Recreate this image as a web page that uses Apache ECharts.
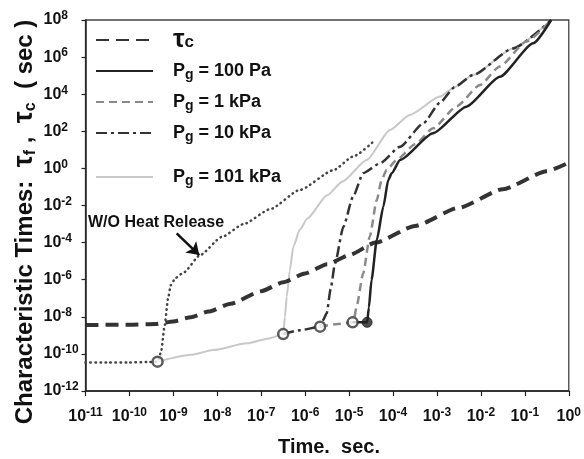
<!DOCTYPE html>
<html><head><meta charset="utf-8">
<script src="https://cdn.jsdelivr.net/npm/echarts@6/dist/echarts.min.js"></script>
<style>html,body{margin:0;padding:0;background:#fff}#c{width:584px;height:459px}</style>
</head><body><div id="c"></div>
<script>
// All values are base-10 exponents: [log10(time s), log10(tau s)]
const xTicks = [-11,-10,-9,-8,-7,-6,-5,-4,-3,-2,-1,0];
const yTicks = [-12,-10,-8,-6,-4,-2,0,2,4,6,8];

const tauC = [[-11,-8.44],[-10,-8.43],[-9.4,-8.39],[-9,-8.25],[-8.6,-8.02],[-8.2,-7.72],[-7.7,-7.3],[-7,-6.62],[-6.5,-6.14],[-6,-5.66],[-5.5,-5.17],[-5,-4.68],[-4.4,-4.0],[-3.5,-3.1],[-2.5,-2.12],[-1.5,-1.12],[-0.5,-0.15],[0,0.31]];

const woHeat = [[-11,-10.47],[-10.5,-10.47],[-10,-10.46],[-9.6,-10.44],[-9.36,-10.42],[-9.28,-9.9],[-9.2,-8.5],[-9.12,-7.0],[-9.06,-6.3],[-8.95,-5.9],[-8.77,-5.62],[-8.39,-4.67],[-7.9,-3.7],[-7.4,-3.0],[-6.8,-2.2],[-6.12,-1.16],[-5.36,-0.1],[-4.9,0.65],[-4.45,1.44]];

const p101k = [[-9.36,-10.42],[-8.6,-10.05],[-8.09,-9.79],[-7.33,-9.43],[-6.8,-9.15],[-6.5,-8.93],[-6.46,-8.0],[-6.42,-6.92],[-6.35,-5.5],[-6.27,-4.22],[-6.12,-3.3],[-5.95,-2.7],[-5.5,-1.45],[-5.15,-0.7],[-4.6,0.45],[-4.07,2.07],[-3.62,2.88],[-2.93,3.87],[-2.6,4.38],[-2.18,5.04],[-1.27,6.47],[-0.4,8]];

const p10k = [[-6.5,-8.93],[-6.1,-8.72],[-5.66,-8.53],[-5.6,-8.2],[-5.51,-7.81],[-5.42,-6.5],[-5.32,-5.12],[-5.13,-3.14],[-4.91,-1.52],[-4.68,-0.26],[-4.3,0.27],[-3.84,1.17],[-3.31,2.43],[-2.93,3.55],[-2.6,4.38],[-2.18,5.04],[-1.27,6.47],[-0.4,8]];

const p1k = [[-5.66,-8.53],[-5.3,-8.4],[-4.92,-8.3],[-4.88,-8.0],[-4.83,-7.45],[-4.68,-5.66],[-4.53,-3.68],[-4.37,-1.7],[-4.26,-0.63],[-4.15,-0.09],[-3.92,0.45],[-3.5,1.3],[-3.09,2.16],[-2.55,3.35],[-2.02,4.5],[-1.57,5.5],[-0.96,6.85],[-0.4,8]];

const p100 = [[-4.92,-8.3],[-4.59,-8.3],[-4.55,-7.5],[-4.49,-6.02],[-4.37,-3.86],[-4.22,-2.06],[-4.11,-0.63],[-4.03,-0.26],[-3.84,0.45],[-3.09,1.89],[-2.33,3.33],[-1.57,4.94],[-0.81,6.74],[-0.4,8]];

const openMarkers = [[-9.36,-10.42],[-6.5,-8.93],[-5.66,-8.53],[-4.92,-8.3]];
const filledMarkers = [[-4.59,-8.3]];

const arrowFrom = [-8.925,-3.5];
const arrowTo = [-8.41,-4.67];

const legendNames = ['tauc','p100','p1k','p10k','p101k'];
const legendLabels = {
  tauc: '{t|τ}{c|c}',
  p100: '{n|P}{g|g}{n| = 100 Pa}',
  p1k: '{n|P}{g|g}{n| = 1 kPa}',
  p10k: '{n|P}{g|g}{n| = 10 kPa}',
  p101k: '{n|P}{g|g}{n| = 101 kPa}'
};

const FF = '"Liberation Sans", Arial, sans-serif';
const tickRich = {
  b: {fontSize: 16, fontWeight: 'bold', fontFamily: FF, color: '#111', lineHeight: 20},
  s: {fontSize: 12, fontWeight: 'bold', fontFamily: FF, color: '#111', lineHeight: 10, verticalAlign: 'top'}
};
const legendRich = {
  n: {fontSize: 18, fontWeight: 'bold', fontFamily: FF, color: '#111', lineHeight: 22},
  g: {fontSize: 14, fontWeight: 'bold', fontFamily: FF, color: '#111', lineHeight: 7, verticalAlign: 'bottom'},
  t: {fontSize: 26, fontWeight: 'bold', fontFamily: FF, color: '#111', lineHeight: 22},
  c: {fontSize: 17, fontWeight: 'bold', fontFamily: FF, color: '#111', lineHeight: 6, verticalAlign: 'bottom'}
};
const legendTops = [27, 62, 93, 124, 168];

const chart = echarts.init(document.getElementById('c'), null, {renderer: 'canvas'});
chart.setOption({
  animation: false,
  backgroundColor: '#fff',
  grid: {left: 85.5, right: 15, top: 20, bottom: 68, show: true, borderColor: '#444', borderWidth: 1.3, backgroundColor: 'transparent'},
  xAxis: {
    type: 'value', min: xTicks[0], max: xTicks[xTicks.length-1], interval: 1,
    axisLine: {onZero: false, lineStyle: {color: '#222', width: 1.5}},
    axisTick: {length: 5, lineStyle: {color: '#222', width: 1.2}},
    splitLine: {show: false},
    axisLabel: {margin: 16, formatter: v => '{b|10}{s|' + v + '}', rich: tickRich}
  },
  yAxis: {
    type: 'value', min: yTicks[0], max: yTicks[yTicks.length-1], interval: 2,
    axisLine: {onZero: false, lineStyle: {color: '#222', width: 1.5}},
    axisTick: {length: 4, lineStyle: {color: '#222', width: 1.2}},
    splitLine: {show: false},
    axisLabel: {margin: 42, align: 'left', formatter: v => '{b|10}{s|' + v + '}', rich: tickRich}
  },
  legend: legendNames.map((nm, i) => ({
    data: [nm], left: 95, top: legendTops[i], padding: 0, itemWidth: 57, itemHeight: 14,
    selectedMode: false,
    itemStyle: {color: 'rgba(0,0,0,0)', borderColor: 'rgba(0,0,0,0)', borderWidth: 0, opacity: 0},
    formatter: name => legendLabels[name],
    textStyle: {padding: [0, 0, 0, 15], rich: legendRich}
  })),
  graphic: [
    {type: 'text', x: 25, y: 222, rotation: Math.PI / 2,
     style: {text: '{a|Characteristic Times:  }{t|τ}{s|f}{a| ,  }{t|τ}{s|c}{a|  ( sec )}',
       align: 'center', verticalAlign: 'middle',
       rich: {
         a: {fontSize: 24, fontWeight: 'bold', fontFamily: FF, fill: '#111', lineHeight: 28},
         t: {fontSize: 27, fontWeight: 'bold', fontFamily: FF, fill: '#111', lineHeight: 28},
         s: {fontSize: 16, fontWeight: 'bold', fontFamily: FF, fill: '#111', lineHeight: 10, verticalAlign: 'bottom'}
       }}},
    {type: 'text', x: 329, y: 447,
     style: {text: 'Time.  sec.', font: 'bold 20px ' + FF, fill: '#111', align: 'center', verticalAlign: 'middle'}},
    {type: 'text', x: 88, y: 223,
     style: {text: 'W/O Heat Release', font: 'bold 16px ' + FF, fill: '#111', align: 'left', verticalAlign: 'middle'}}
  ],
  series: [
    {name: 'tauc', type: 'line', data: tauC, symbol: 'none', smooth: 0.2, smoothMonotone: 'x',
     lineStyle: {color: '#333', width: 4, type: [13, 7]}, itemStyle: {color: '#333'}, z: 3},
    {name: 'wo', type: 'line', data: woHeat, symbol: 'none', smooth: 0.2, smoothMonotone: 'x',
     lineStyle: {color: '#444', width: 2.5, type: [0.5, 4.5], cap: 'round'}, itemStyle: {color: '#444'}, z: 2,
     markLine: {silent: true, symbol: ['none', 'arrow'], symbolSize: 12, label: {show: false},
       lineStyle: {color: '#111', width: 2.5, type: 'solid'},
       data: [[{coord: arrowFrom}, {coord: arrowTo}]]}},
    {name: 'p101k', type: 'line', data: p101k, symbol: 'none', smooth: 0.2, smoothMonotone: 'x',
     lineStyle: {color: '#c8c8c8', width: 2, type: 'solid'}, itemStyle: {color: '#c8c8c8'}, z: 2},
    {name: 'p10k', type: 'line', data: p10k, symbol: 'none', smooth: 0.2, smoothMonotone: 'x',
     lineStyle: {color: '#333', width: 2.5, type: [11, 4, 3, 4]}, itemStyle: {color: '#333'}, z: 3},
    {name: 'p1k', type: 'line', data: p1k, symbol: 'none', smooth: 0.2, smoothMonotone: 'x',
     lineStyle: {color: '#8a8a8a', width: 2.5, type: [8, 5]}, itemStyle: {color: '#8a8a8a'}, z: 3},
    {name: 'p100', type: 'line', data: p100, symbol: 'none', smooth: 0.2, smoothMonotone: 'x',
     lineStyle: {color: '#222', width: 2.5, type: 'solid'}, itemStyle: {color: '#222'}, z: 4},
    {name: 'open', type: 'scatter', data: openMarkers, symbol: 'circle', symbolSize: 10,
     itemStyle: {color: '#fff', borderColor: '#333', borderWidth: 2.5}, z: 10},
    {name: 'filled', type: 'scatter', data: filledMarkers, symbol: 'circle', symbolSize: 10,
     itemStyle: {color: '#222', borderColor: '#222', borderWidth: 1}, z: 10}
  ]
});
</script>
</body></html>
